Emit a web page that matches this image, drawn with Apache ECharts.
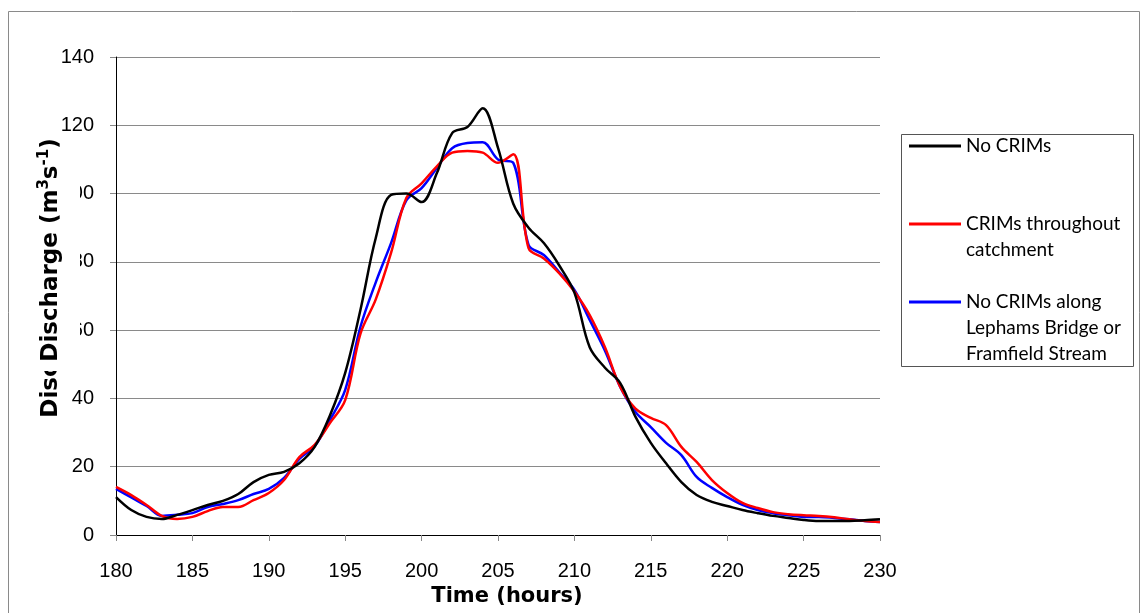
<!DOCTYPE html>
<html>
<head>
<meta charset="utf-8">
<script src="https://cdn.jsdelivr.net/npm/echarts@6/dist/echarts.min.js"></script>
<style>html,body{margin:0;padding:0;background:#fff;}#c{width:1142px;height:613px;}</style>
</head>
<body>
<div id="c"></div>
<script>
const hours = [180,181,182,183,184,185,186,187,188,189,190,191,192,193,194,195,196,197,198,199,200,201,202,203,204,205,206,207,208,209,210,211,212,213,214,215,216,217,218,219,220,221,222,223,224,225,226,227,228,229,230];
const noCrims = [11.1,7.3,5.3,4.7,5.9,7.3,8.8,10,12,15.5,17.6,18.5,21,25.8,35,47.5,66,87,99.6,100,97.5,106,117.7,119.5,125,113.4,97,90,85.5,79,71,55,49,44.5,34.6,27,21,15.5,11.7,9.7,8.5,7.3,6.4,5.6,5,4.4,4.1,4.1,4.1,4.3,4.6];
const crimsThroughout = [14.1,11.7,8.8,5.6,4.7,5.3,7.0,8.2,8.2,10.2,12.3,16.1,22.8,26.4,32.8,39.5,59,69,82.6,98.7,103,108,112,112.5,112,109,111.5,84,81,76.7,71.3,64.4,55,43.4,37,34.3,32.2,25.8,21.4,16.1,12.3,9.4,7.9,6.7,6.1,5.8,5.6,5.2,4.6,4.1,3.8];
const noCrimsAlong = [13.5,11,8.5,5.6,5.9,6.4,8.2,9.1,10.2,12,13.5,16.7,22.3,26,33.7,42.5,61,74,85.5,98,101.6,107.5,113.3,114.8,115,110,109,85,82,77,71.8,63,54,43.4,36,31.6,27,23.4,17,13.8,11.1,8.8,7.3,6.4,5.8,5.3,5.3,5,4.6,4.1,3.8];
const seriesNames = ['No CRIMs', 'CRIMs throughout\ncatchment', 'No CRIMs along\nLephams Bridge or\nFramfield Stream'];
const seriesColors = ['#000000', '#ff0000', '#0000ff'];
const seriesValues = [noCrims, crimsThroughout, noCrimsAlong];
const xTitle = 'Time (hours)';
const yTitleRich = 'Discharge (m{sup|3}s{sup|-1})';

const LH = 26;
const legendFirstLineY = [146, 224, 302];

const chart = echarts.init(document.getElementById('c'), null, {renderer: 'canvas'});

const legends = seriesNames.map((name, i) => {
  const n = name.split('\n').length;
  return {
    data: [name],
    left: 909,
    top: legendFirstLineY[i] - (2 * n - 1) * LH / 2,
    padding: 0,
    itemWidth: 52,
    itemHeight: 3,
    itemGap: 0,
    icon: 'rect',
    selectedMode: false,
    formatter: (nm) => '\n'.repeat(n - 1) + nm,
    textStyle: {
      fontFamily: 'Lato',
      fontSize: 19,
      color: '#000',
      lineHeight: LH
    }
  };
});

const yTitleStyle = {
  text: yTitleRich,
  fontFamily: 'DejaVu Sans', fontWeight: 'bold', fontSize: 23, lineHeight: 28,
  fill: '#000', align: 'center', verticalAlign: 'middle',
  rich: {
    sup: {fontFamily: 'DejaVu Sans', fontWeight: 'bold', fontSize: 15, lineHeight: 15, verticalAlign: 'top', fill: '#000'}
  }
};

const option = {
  animation: false,
  backgroundColor: '#fff',
  grid: {left: 116, right: 262, top: 57, bottom: 78, containLabel: false},
  legend: legends,
  xAxis: {
    type: 'value', min: 180, max: 230, interval: 5,
    axisLine: {show: true, onZero: false, lineStyle: {color: '#000', width: 1}},
    axisTick: {show: true, length: 6, lineStyle: {color: '#888'}},
    axisLabel: {fontFamily: 'Liberation Sans', fontSize: 20, color: '#000', margin: 26},
    splitLine: {show: false}
  },
  yAxis: {
    type: 'value', min: 0, max: 140, interval: 20,
    axisLine: {show: true, lineStyle: {color: '#000', width: 1}},
    axisTick: {show: true, length: 6, lineStyle: {color: '#888'}},
    axisLabel: {fontFamily: 'Liberation Sans', fontSize: 20, color: '#000', margin: 22},
    splitLine: {show: true, lineStyle: {color: '#8a8a8a', width: 1}}
  },
  series: seriesNames.map((name, i) => ({
    name: name,
    type: 'line',
    data: hours.map((h, k) => [h, seriesValues[i][k]]),
    showSymbol: false,
    symbol: 'none',
    smooth: 0.35,
    lineStyle: {color: seriesColors[i], width: 2.5},
    itemStyle: {color: seriesColors[i]},
    z: 3 - i
  })),
  graphic: [
    {type: 'rect', z: 0, silent: true, shape: {x: 8.5, y: 11.5, width: 1131, height: 620}, style: {fill: 'none', stroke: '#8a8a8a', lineWidth: 1}},
    {type: 'text', z: 50, x: 51, y: 306, rotation: Math.PI / 2, style: Object.assign({}, yTitleStyle)},
    {type: 'rect', z: 60, silent: true, shape: {x: 30, y: 134, width: 50, height: 237}, style: {fill: '#fff'}},
    {type: 'text', z: 70, x: 51, y: 250, rotation: Math.PI / 2, style: Object.assign({}, yTitleStyle)},
    {type: 'text', z: 50, x: 507, y: 597, style: {text: xTitle, fontFamily: 'DejaVu Sans', fontWeight: 'bold', fontSize: 21, fill: '#000', align: 'center', verticalAlign: 'middle'}},
    {type: 'rect', z: 50, silent: true, shape: {x: 901.5, y: 134.5, width: 232, height: 232}, style: {fill: 'none', stroke: '#555', lineWidth: 1}}
  ]
};
chart.setOption(option);
</script>
</body>
</html>
